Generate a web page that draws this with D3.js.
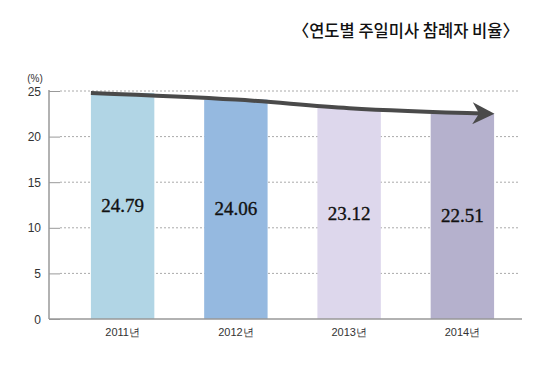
<!DOCTYPE html>
<html>
<head>
<meta charset="utf-8">
<script src="https://cdn.jsdelivr.net/npm/d3@7"></script>
<style>
  body { margin: 0; background: #fff; }
  svg { display: block; }
  .tick text { font-family: "Liberation Sans", Arial, sans-serif; fill: #333; }
</style>
</head>
<body>
<div id="chart"></div>
<script>
// chart values
var years = ["2011년", "2012년", "2013년", "2014년"];
var rates = [24.79, 24.06, 23.12, 22.51];
var barColors = ["#b1d5e5", "#95b9e0", "#ddd7ec", "#b5b1cd"];
var yTicks = [0, 5, 10, 15, 20, 25];

var width = 550, height = 367;

var svg = d3.select("#chart").append("svg")
    .attr("width", width)
    .attr("height", height);

var x = d3.scaleBand()
    .domain(years)
    .range([66, 519])
    .paddingInner(0.44)
    .paddingOuter(0.22);

var y = d3.scaleLinear()
    .domain([0, 25])
    .range([319, 91]);

// title
svg.append("text")
    .attr("x", 519)
    .attr("y", 37)
    .attr("text-anchor", "end")
    .attr("font-family", "'Noto Sans CJK KR', sans-serif")
    .attr("font-size", 16.5)
    .attr("font-weight", 500)
    .attr("fill", "#111")
    .text("〈연도별 주일미사 참례자 비율〉");

// grid
svg.append("g")
    .selectAll("line")
    .data(yTicks.filter(function(d){ return d > 0; }))
    .enter().append("line")
    .attr("x1", 60).attr("x2", 518)
    .attr("y1", function(d){ return y(d); })
    .attr("y2", function(d){ return y(d); })
    .attr("stroke", "#aaa")
    .attr("stroke-dasharray", "2,2");

// bars
svg.append("g")
    .selectAll("rect")
    .data(rates)
    .enter().append("rect")
    .attr("x", function(d, i){ return x(years[i]); })
    .attr("width", x.bandwidth())
    .attr("y", function(d){ return y(d); })
    .attr("height", function(d){ return y(0) - y(d); })
    .attr("fill", function(d, i){ return barColors[i]; });

// value labels
svg.append("g")
    .selectAll("text")
    .data(rates)
    .enter().append("text")
    .attr("x", function(d, i){ return x(years[i]) + x.bandwidth() / 2; })
    .attr("y", function(d){ return y(d / 2) + 6; })
    .attr("text-anchor", "middle")
    .attr("font-family", "'Liberation Serif', 'DejaVu Serif', serif")
    .attr("font-size", 19)
    .attr("fill", "#111")
    .attr("stroke", "#111")
    .attr("stroke-width", 0.35)
    .text(function(d){ return d.toFixed(2); });

// y axis
var yAxis = svg.append("g")
    .attr("transform", "translate(49,0)")
    .call(d3.axisRight(y).tickValues(yTicks).tickSize(11).tickFormat(""));
yAxis.select(".domain").remove();
yAxis.selectAll(".tick line").attr("stroke", "#999");
yAxis.append("line")
    .attr("y1", y(25) - 1).attr("y2", y(0))
    .attr("stroke", "#999").attr("stroke-width", 1.5);

svg.append("g")
    .selectAll("text")
    .data(yTicks)
    .enter().append("text")
    .attr("x", 41)
    .attr("y", function(d){ return y(d) + 4.5; })
    .attr("text-anchor", "end")
    .attr("font-family", "'Liberation Sans', Arial, sans-serif")
    .attr("font-size", 12)
    .attr("fill", "#333")
    .text(function(d){ return d; });

svg.append("text")
    .attr("x", 35).attr("y", 82)
    .attr("text-anchor", "middle")
    .attr("font-family", "'Liberation Sans', Arial, sans-serif")
    .attr("font-size", 10)
    .attr("fill", "#333")
    .text("(%)");

// x axis
var xAxis = svg.append("g")
    .attr("transform", "translate(0," + y(0) + ")")
    .call(d3.axisBottom(x).tickSize(0).tickPadding(9));
xAxis.select(".domain")
    .attr("d", "M49,0H522")
    .attr("stroke", "#999")
    .attr("stroke-width", 1.5);
xAxis.selectAll(".tick text")
    .attr("font-size", 11)
    .attr("fill", "#222");

// trend arrow
var defs = svg.append("defs");
defs.append("marker")
    .attr("id", "arrowhead")
    .attr("viewBox", "0 0 10 10")
    .attr("refX", 8).attr("refY", 5)
    .attr("markerWidth", 6).attr("markerHeight", 5.5)
    .attr("markerUnits", "strokeWidth")
    .attr("orient", "auto")
  .append("path")
    .attr("d", "M0,0L10,5L0,10L3,5Z")
    .attr("fill", "#4a4a4a");

var trendPts = rates.map(function(d, i){
  var cx = x(years[i]) + x.bandwidth() / 2;
  if (i === 0) cx = x(years[i]);
  if (i === rates.length - 1) cx = x(years[i]) + x.bandwidth() - 4;
  return [cx, y(d)];
});

svg.append("path")
    .datum(trendPts)
    .attr("d", d3.line().curve(d3.curveMonotoneX))
    .attr("fill", "none")
    .attr("stroke", "#4a4a4a")
    .attr("stroke-width", 4)
    .attr("marker-end", "url(#arrowhead)");
</script>
</body>
</html>
